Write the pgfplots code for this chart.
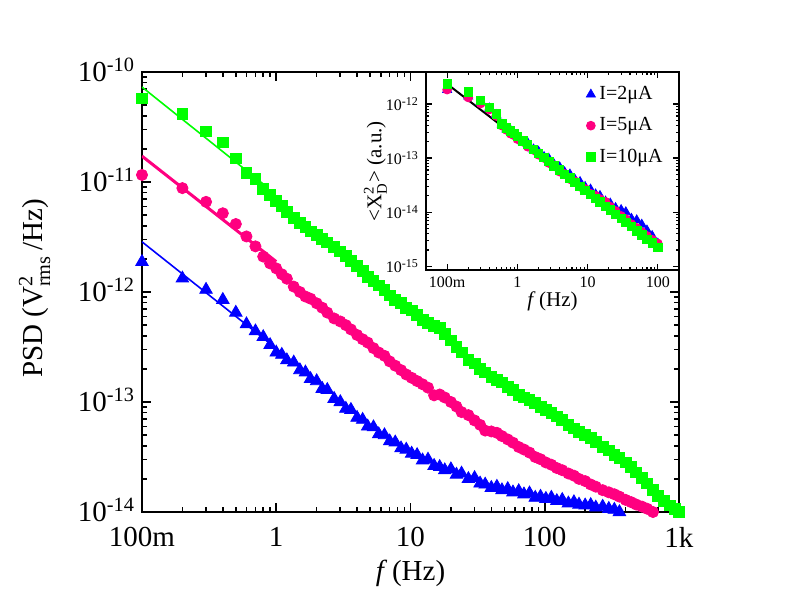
\documentclass[border=0pt]{standalone}
\usepackage{fontspec}
\setmainfont{Liberation Serif}
\usepackage{amsmath}
\usepackage{pgfplots}
\usepackage{pgfplotstable}
\pgfplotsset{compat=1.18}

\definecolor{cblue}{RGB}{0,0,255}
\definecolor{cpink}{RGB}{255,0,128}
\definecolor{cgreen}{RGB}{0,255,0}

% main panel: PSD vs f for three bias currents
\pgfplotstableread{
f y
0.1 1.88e-12
0.2 1.33e-12
0.3 1.05e-12
0.4 8.5e-13
0.5 6.5e-13
0.6 5.1e-13
0.7 4.4e-13
0.8 3.9e-13
0.9 3.3e-13
1 2.82e-13
1.1 2.69e-13
1.2 2.40e-13
1.35 2.29e-13
1.5 1.95e-13
1.65 1.86e-13
1.8 1.62e-13
2 1.55e-13
2.2 1.32e-13
2.4 1.29e-13
2.7 1.07e-13
3 1.00e-13
3.3 8.7e-14
3.6 8.5e-14
4 7.2e-14
4.4 6.9e-14
4.8 6.0e-14
5.3 5.9e-14
5.8 5.1e-14
6.4 5.0e-14
7 4.4e-14
7.7 4.3e-14
8.5 3.8e-14
9.3 3.7e-14
10.2 3.4e-14
11.2 3.3e-14
12.3 2.95e-14
13.5 3.0e-14
15 2.63e-14
16.5 2.57e-14
18 2.40e-14
20 2.45e-14
22 2.19e-14
24 2.24e-14
27 2.0e-14
30 2.04e-14
33 1.82e-14
36 1.78e-14
40 1.66e-14
44 1.70e-14
48 1.58e-14
53 1.62e-14
58 1.51e-14
64 1.55e-14
70 1.45e-14
77 1.48e-14
85 1.35e-14
93 1.38e-14
102 1.32e-14
112 1.35e-14
123 1.26e-14
135 1.29e-14
150 1.20e-14
165 1.23e-14
180 1.17e-14
200 1.15e-14
220 1.16e-14
240 1.10e-14
270 1.12e-14
300 1.07e-14
330 1.05e-14
360 1.00e-14
400 0.98e-14
}\blueA

\pgfplotstableread{
f y
0.1 1.16e-11
0.2 8.8e-12
0.3 6.6e-12
0.4 5.2e-12
0.5 4.15e-12
0.6 3.2e-12
0.7 2.6e-12
0.8 2.1e-12
0.9 1.82e-12
1 1.64e-12
1.1 1.45e-12
1.2 1.32e-12
1.35 1.12e-12
1.5 1.00e-12
1.65 9.1e-13
1.8 8.7e-13
2 7.9e-13
2.2 7.2e-13
2.4 6.5e-13
2.7 5.75e-13
3 5.4e-13
3.3 5.0e-13
3.6 4.57e-13
4 4.07e-13
4.4 3.72e-13
4.8 3.47e-13
5.3 3.09e-13
5.8 2.82e-13
6.4 2.63e-13
7 2.34e-13
7.7 2.14e-13
8.5 1.95e-13
9.3 1.78e-13
10.2 1.66e-13
11.2 1.55e-13
12.3 1.45e-13
13.5 1.35e-13
15 1.15e-13
16.5 1.17e-13
18 1.10e-13
20 1.00e-13
22 9.1e-14
24 8.1e-14
27 7.6e-14
30 6.8e-14
33 6.2e-14
36 5.5e-14
40 5.4e-14
44 5.25e-14
48 4.9e-14
53 4.57e-14
58 4.27e-14
64 3.9e-14
70 3.7e-14
77 3.47e-14
85 3.16e-14
93 3.02e-14
102 2.82e-14
112 2.69e-14
123 2.51e-14
135 2.40e-14
150 2.24e-14
165 2.14e-14
180 2.0e-14
200 1.91e-14
220 1.78e-14
240 1.70e-14
270 1.58e-14
300 1.51e-14
330 1.45e-14
360 1.38e-14
400 1.29e-14
440 1.23e-14
480 1.17e-14
530 1.12e-14
580 1.07e-14
640 1.00e-14
}\pinkA

\pgfplotstableread{
f y
0.1 5.75e-11
0.2 4.17e-11
0.3 2.88e-11
0.4 2.29e-11
0.5 1.64e-11
0.6 1.22e-11
0.7 1.07e-11
0.8 8.7e-12
0.9 7.6e-12
1 6.76e-12
1.1 6.03e-12
1.2 5.37e-12
1.35 4.68e-12
1.5 4.27e-12
1.65 3.89e-12
1.8 3.55e-12
2 3.31e-12
2.2 3.02e-12
2.4 2.82e-12
2.7 2.57e-12
3 2.34e-12
3.3 2.14e-12
3.6 1.91e-12
4 1.74e-12
4.4 1.55e-12
4.8 1.38e-12
5.3 1.26e-12
5.8 1.15e-12
6.4 1.05e-12
7 9.3e-13
7.7 8.5e-13
8.5 7.9e-13
9.3 7.2e-13
10.2 6.8e-13
11.2 6.2e-13
12.3 5.6e-13
13.5 5.25e-13
15 4.9e-13
16.5 4.68e-13
18 4.17e-13
20 3.63e-13
22 3.16e-13
24 2.82e-13
27 2.40e-13
30 2.24e-13
33 2.0e-13
36 1.86e-13
40 1.70e-13
44 1.58e-13
48 1.51e-13
53 1.38e-13
58 1.29e-13
64 1.17e-13
70 1.10e-13
77 1.05e-13
85 9.8e-14
93 9.1e-14
102 8.5e-14
112 7.9e-14
123 7.4e-14
135 6.9e-14
150 6.2e-14
165 5.75e-14
180 5.37e-14
200 5.0e-14
220 4.68e-14
240 4.37e-14
270 3.89e-14
300 3.63e-14
330 3.31e-14
360 3.09e-14
400 2.82e-14
440 2.57e-14
480 2.29e-14
530 2.04e-14
580 1.82e-14
640 1.58e-14
700 1.41e-14
770 1.26e-14
850 1.15e-14
930 1.07e-14
1000 1.00e-14
}\greenA

% inset: scaled spectra <X_D^2>
\pgfplotstableread{
f y
0.1 1.82e-12
0.2 1.38e-12
0.3 1.07e-12
0.4 8.3e-13
0.5 6.3e-13
0.6 4.2e-13
0.7 3.39e-13
0.8 3.24e-13
0.9 2.75e-13
1 2.57e-13
1.2 2.0e-13
1.4 1.91e-13
1.7 1.45e-13
2 1.32e-13
2.4 1.05e-13
2.8 9.8e-14
3.3 7.8e-14
4 6.8e-14
4.7 5.5e-14
5.6 5.0e-14
6.6 4.0e-14
7.8 3.63e-14
9.2 2.95e-14
11 2.63e-14
13 2.14e-14
15 2.0e-14
18 1.58e-14
21 1.45e-14
25 1.20e-14
30 1.10e-14
35 1.0e-14
42 7.6e-15
50 7.1e-15
59 5.9e-15
70 4.6e-15
83 3.63e-15
100 2.63e-15
}\blueB

\pgfplotstableread{
f y
0.1 1.84e-12
0.2 1.32e-12
0.3 1.02e-12
0.4 7.9e-13
0.5 6.0e-13
0.6 3.98e-13
0.7 3.31e-13
0.8 2.82e-13
0.9 2.63e-13
1 2.24e-13
1.2 2.0e-13
1.4 1.62e-13
1.7 1.41e-13
2 1.15e-13
2.4 1.0e-13
2.8 8.1e-14
3.3 7.4e-14
4 5.6e-14
4.7 5.1e-14
5.6 4.07e-14
6.6 3.72e-14
7.8 2.95e-14
9.2 2.69e-14
11 2.19e-14
13 2.0e-14
15 1.74e-14
18 1.55e-14
21 1.26e-14
25 1.05e-14
30 8.5e-15
35 7.4e-15
42 6.0e-15
50 5.1e-15
59 4.27e-15
70 3.63e-15
83 3.09e-15
100 2.63e-15
}\pinkB

\pgfplotstableread{
f y
0.1 2.34e-12
0.2 1.66e-12
0.3 1.15e-12
0.4 8.7e-13
0.5 6.5e-13
0.6 4.27e-13
0.7 3.63e-13
0.8 3.16e-13
0.9 2.82e-13
1 2.51e-13
1.2 2.09e-13
1.4 1.78e-13
1.7 1.45e-13
2 1.23e-13
2.4 1.02e-13
2.8 8.7e-14
3.3 7.2e-14
4 6.0e-14
4.7 5.0e-14
5.6 4.27e-14
6.6 3.55e-14
7.8 3.02e-14
9.2 2.51e-14
11 2.14e-14
13 1.78e-14
15 1.55e-14
18 1.29e-14
21 1.10e-14
25 9.1e-15
30 7.6e-15
35 6.5e-15
42 5.4e-15
50 4.47e-15
59 3.8e-15
70 3.16e-15
83 2.69e-15
100 2.24e-15
}\greenB

\begin{document}
\begin{tikzpicture}
\useasboundingbox (-71pt,-51.15pt) rectangle (323.5pt,256pt);

\begin{axis}[
    name=main,
    scale only axis,
    width=268.5pt, height=220pt,
    xmode=log, ymode=log,
    xmin=0.1, xmax=1000,
    ymin=1e-14, ymax=1e-10,
    xtick={0.1,1,10,100,1000},
    xticklabels={100m,1,10,100,1k},
    ytick={1e-14,1e-13,1e-12,1e-11,1e-10},
    yticklabels={10\textsuperscript{-14},10\textsuperscript{-13},10\textsuperscript{-12},10\textsuperscript{-11},10\textsuperscript{-10}},
    tick label style={font=\fontsize{14.5}{16}\selectfont},
    xticklabel style={yshift=-4pt},
    yticklabel style={yshift=1pt},
    xtick pos=both, ytick pos=both,
    tick align=inside,
    major tick length=4.5pt, minor tick length=2.5pt,
    every tick/.style={black, line width=0.8pt},
    axis line style={line width=1pt},
    xlabel={\textit{f}\,(Hz)},
    ylabel={PSD (V$^{\text{2}}_{\text{rms}}$\,/Hz)},
    label style={font=\fontsize{14.5}{16}\selectfont},
    xlabel style={at={(axis description cs:0.5,-0.14)}, anchor=center},
    ylabel style={at={(axis description cs:-0.2,0.508)}, anchor=center},
]
\addplot[only marks, mark=triangle*, mark size=3.6pt, color=cblue] table[x=f, y=y] {\blueA};
\addplot[cblue, line width=0.8pt] coordinates {(0.1,2.86e-12) (1.2,2.57e-13)};
\addplot[only marks, mark=*, mark size=2.8pt, color=cpink] table[x=f, y=y] {\pinkA};
\addplot[cpink, line width=1.5pt] coordinates {(0.1,1.72e-11) (1,1.89e-12)};
\addplot[only marks, mark=square*, mark size=2.7pt, color=cgreen] table[x=f, y=y] {\greenA};
\addplot[cgreen, line width=0.8pt] coordinates {(0.1,7.3e-11) (0.8,9.6e-12)};
\end{axis}

\begin{axis}[
    at={(main.north east)}, anchor=north east,
    scale only axis,
    width=126.5pt, height=99pt,
    axis background/.style={fill=white},
    xmode=log, ymode=log,
    xmin=0.05, xmax=200,
    ymin=8.5e-16, ymax=3.9e-12,
    xtick={0.1,1,10,100},
    xticklabels={100m,1,10,100},
    ytick={1e-15,1e-14,1e-13,1e-12},
    yticklabels={10\textsuperscript{-15},10\textsuperscript{-14},10\textsuperscript{-13},10\textsuperscript{-12}},
    tick label style={font=\fontsize{8}{9}\selectfont},
    xtick pos=both, ytick pos=both,
    tick align=inside,
    major tick length=3pt, minor tick length=1.6pt,
    every tick/.style={black, line width=0.6pt},
    axis line style={line width=0.9pt},
    xlabel={\textit{f}\,(Hz)},
    ylabel={<X$^{\text{2}}_{\text{D}}$> (a.u.)},
    label style={font=\fontsize{10.5}{12}\selectfont},
    xlabel style={at={(axis description cs:0.5,-0.16)}, anchor=center},
    ylabel style={at={(axis description cs:-0.2,0.5)}, anchor=center},
    legend style={draw=none, fill=none, at={(0.96,0.96)}, anchor=north east,
        font=\fontsize{10}{12}\selectfont, row sep=3.5pt, inner sep=1pt},
    legend cell align=left,
]
\addplot[only marks, mark=triangle*, mark size=2.6pt, color=cblue] table[x=f, y=y] {\blueB};
\addplot[only marks, mark=*, mark size=2.2pt, color=cpink] table[x=f, y=y] {\pinkB};
\addplot[only marks, mark=square*, mark size=2.1pt, color=cgreen] table[x=f, y=y] {\greenB};
\addplot[black, line width=1pt] coordinates {(0.1,2.34e-12) (100,2.4e-15)};
\legend{I=2μA, I=5μA, I=10μA}
\end{axis}
\end{tikzpicture}
\end{document}
